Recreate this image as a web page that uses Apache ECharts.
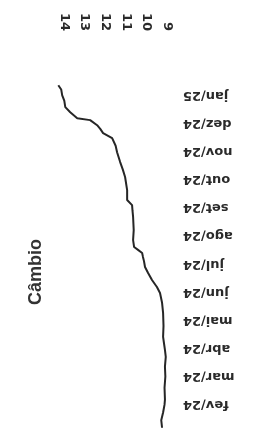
<!DOCTYPE html>
<html>
<head>
<meta charset="utf-8">
<script src="https://cdn.jsdelivr.net/npm/echarts@6/dist/echarts.min.js"></script>
<style>
  html, body { margin: 0; padding: 0; background: #fff; }
  #chart { width: 270px; height: 431px; }
</style>
</head>
<body>
<div id="chart"></div>
<script>
  // month labels sit at month index 1..12 (fev/24 .. jan/25)
  const monthTicks = [1, 2, 3, 4, 5, 6, 7, 8, 9, 10, 11, 12];
  const monthLabels = ["fev/24", "mar/24", "abr/24", "mai/24", "jun/24", "jul/24",
    "ago/24", "set/24", "out/24", "nov/24", "dez/24", "jan/25"];
  const valueTicks = [9, 10, 11, 12, 13, 14];

  // series: position in months, câmbio value
  const monthPos = [0.18, 0.45, 0.72, 1.0, 1.18, 1.6, 2.0, 2.35, 2.7, 2.95, 3.2, 3.41, 3.8, 4.26,
    4.62, 4.97, 5.18, 5.43, 5.68, 5.89, 6.1, 6.25, 6.39, 6.5, 6.6, 6.85, 7.2, 7.67, 7.9, 8.09,
    8.27, 8.62, 9.09, 9.35, 9.62, 9.97, 10.2, 10.47, 10.65, 10.8, 10.93, 11.11, 11.18, 11.39,
    11.57, 11.8, 11.99, 12.2, 12.35];
  const cambio = [9.24, 9.28, 9.19, 9.12, 9.10, 9.12, 9.08, 9.10, 9.06, 9.10, 9.15, 9.19, 9.17, 9.19,
    9.24, 9.34, 9.49, 9.73, 9.92, 10.07, 10.12, 10.17, 10.21, 10.41, 10.60, 10.65, 10.62, 10.65, 10.68, 10.70,
    10.94, 10.94, 11.04, 11.15, 11.28, 11.43, 11.50, 11.67, 12.11, 12.25, 12.40, 12.74, 13.37, 13.71,
    13.95, 14.0, 14.10, 14.15, 14.29];

  const textColor = "#2a2a2a";
  const chart = echarts.init(document.getElementById("chart"));

  chart.setOption({
    backgroundColor: "#fff",
    animation: false,
    grid: { left: 54, right: 103, top: 81, bottom: 1 },
    graphic: [
      {
        type: "text",
        x: 36,
        y: 272,
        rotation: Math.PI / 2,
        style: {
          text: "Câmbio",
          fill: "#333",
          font: "bold 18px 'Liberation Sans', Arial, sans-serif",
          textAlign: "center",
          textVerticalAlign: "middle",
        },
      },
    ],
    xAxis: {
      type: "value",
      position: "top",
      inverse: true,
      min: 9,
      max: 14.5,
      axisLine: { show: false },
      axisTick: { show: false },
      splitLine: { show: false },
      axisLabel: {
        customValues: valueTicks,
        rotate: 90,
        margin: 50,
        fontSize: 13,
        fontWeight: "bold",
        fontFamily: "DejaVu Sans",
        color: textColor,
      },
    },
    yAxis: {
      type: "value",
      position: "right",
      min: 0.1,
      max: 12.5,
      axisLine: { show: false },
      axisTick: { show: false },
      splitLine: { show: false },
      axisLabel: {
        customValues: monthTicks,
        rotate: 180,
        margin: 16,
        fontSize: 13,
        fontWeight: "bold",
        fontFamily: "DejaVu Sans",
        color: textColor,
        formatter: (value) => monthLabels[value - 1] || "",
      },
    },
    series: [
      {
        type: "line",
        showSymbol: false,
        lineStyle: { color: "#262626", width: 2 },
        data: monthPos.map((t, i) => [cambio[i], t]),
      },
    ],
  });
</script>
</body>
</html>
